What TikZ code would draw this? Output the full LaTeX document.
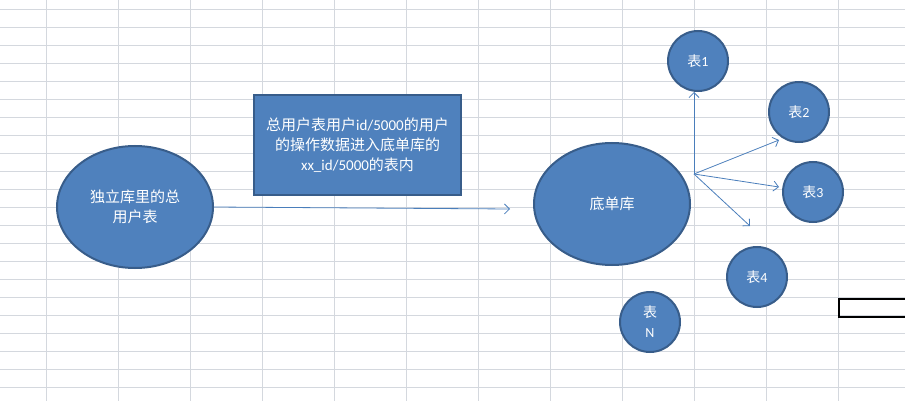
\documentclass[tikz,border=0pt]{standalone}
\usepackage{fontspec}
\setmainfont{Noto Sans CJK SC}
\newfontfamily\latinfont{Carlito}
\usetikzlibrary{shapes.geometric,arrows.meta}
\definecolor{cellblue}{RGB}{79,129,189}
\definecolor{edgeblue}{RGB}{56,93,138}
\definecolor{arrowblue}{RGB}{74,126,187}
\definecolor{gridgray}{RGB}{212,216,222}
\tikzset{
  shapebase/.style={draw=edgeblue, line width=2pt, fill=cellblue, text=white, align=center},
  dbnode/.style={shapebase, ellipse, minimum width=156pt, minimum height=122pt, font=\fontsize{15}{20}\selectfont},
  tblnode/.style={shapebase, circle, minimum size=60pt, inner sep=0pt, font=\fontsize{14}{20}\selectfont},
  notebox/.style={shapebase, rectangle, minimum width=207pt, minimum height=99pt, font=\fontsize{15}{20}\selectfont},
  link/.style={draw=arrowblue, line width=0.8pt, -{Straight Barb[length=5pt,width=10pt]}}
}
\begin{document}
\begin{tikzpicture}[x=1pt,y=-1pt]
\useasboundingbox (0,0) rectangle (905,401);
% sheet grid
\foreach \x in {0,...,11}
    \draw[gridgray, line width=0.8pt] ({46.5+72*\x},0) -- ++(0,401);
\foreach \y in {0,...,21}
    \draw[gridgray, line width=0.8pt] (0,{9.3+18*\y}) -- ++(905,0);
% selected cell
\draw[line width=2.5pt] (839,299) rectangle (912,317);

\node[dbnode] (src) at (135,207) {独立库里的总\\用户表};
\node[notebox] (rule) at (357.5,145) {总用户表用户{\latinfont id/5000}的用户\\的操作数据进入底单库的\\{\latinfont xx\_id/5000}的表内};
\node[dbnode] (base) at (612,204) {底单库};

\foreach \n/\x/\y/\t in {t1/698/61/1, t2/799/112/2, t3/813/192/3, t4/757/277/4}
    \node[tblnode] (\n) at (\x,\y) {表{\latinfont\t}};
\node[tblnode] (tN) at (650,322) {表\\{\latinfont N}};

\coordinate (mid) at (510,209);
\coordinate (hub) at (694,174);
\coordinate (e2) at (779,140);
\coordinate (e3) at (779,187);
\coordinate (e4) at (750,226);

\draw[link] (src.east) -- (mid);
\draw[link] (hub) -- (hub |- t1.south);
\foreach \e in {e2,e3,e4}
    \draw[link] (hub) -- (\e);
\end{tikzpicture}
\end{document}
